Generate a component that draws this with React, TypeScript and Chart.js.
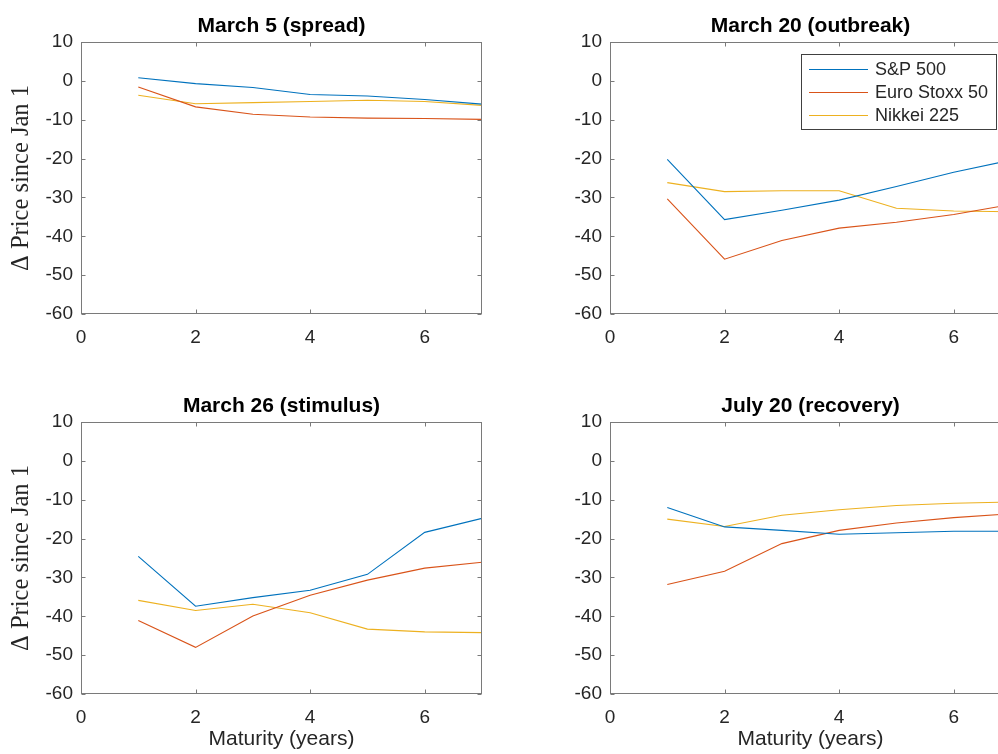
import React, { useEffect, useRef } from "react";
import { Chart, registerables } from "chart.js";

Chart.register(...registerables);

// ---------- data ----------
const maturities = [1, 2, 3, 4, 5, 6, 7];
const seriesNames = ["S&P 500", "Euro Stoxx 50", "Nikkei 225"];
const seriesColors = ["#0072BD", "#D95319", "#EDB120"];
const panelTitles = [
  "March 5 (spread)",
  "March 20 (outbreak)",
  "March 26 (stimulus)",
  "July 20 (recovery)",
];
const xTicks = [0, 2, 4, 6];
const yTicks = [-60, -50, -40, -30, -20, -10, 0, 10];
const xLabel = "Maturity (years)";
const yLabel = "Δ Price since Jan 1";

const mar5SP = [0.8, -0.7, -1.7, -3.5, -3.9, -4.8, -6.0];
const mar5Euro = [-1.6, -6.7, -8.6, -9.3, -9.6, -9.7, -9.9];
const mar5Nikkei = [-3.7, -5.9, -5.6, -5.3, -5.0, -5.3, -6.3];

const mar20SP = [-20.2, -35.7, -33.3, -30.7, -27.2, -23.5, -20.4];
const mar20Euro = [-30.4, -45.9, -41.1, -37.9, -36.4, -34.4, -31.8];
const mar20Nikkei = [-26.2, -28.5, -28.3, -28.3, -32.8, -33.5, -33.7];

const mar26SP = [-24.6, -37.4, -35.2, -33.3, -29.2, -18.4, -14.8];
const mar26Euro = [-41.1, -48.0, -39.9, -34.6, -30.7, -27.6, -26.1];
const mar26Nikkei = [-35.9, -38.5, -36.9, -39.1, -43.3, -44.0, -44.2];

const jul20SP = [-12.0, -17.0, -17.9, -18.9, -18.5, -18.1, -18.1];
const jul20Euro = [-31.8, -28.4, -21.3, -17.9, -16.0, -14.6, -13.6];
const jul20Nikkei = [-15.0, -16.9, -14.0, -12.6, -11.5, -10.9, -10.6];

const panelSeries = [
  [mar5SP, mar5Euro, mar5Nikkei],
  [mar20SP, mar20Euro, mar20Nikkei],
  [mar26SP, mar26Euro, mar26Nikkei],
  [jul20SP, jul20Euro, jul20Nikkei],
];

// ---------- styling / layout ----------
const SANS = "'Liberation Sans', Arial, Helvetica, sans-serif";
const SERIF = "'Liberation Serif', 'Times New Roman', serif";
const AXIS_COLOR = "#7a7a7a";
const TEXT_COLOR = "#262626";

type PanelLayout = {
  left: number;
  top: number;
  width: number;
  height: number;
  yWidth: number;
  xHeight: number;
  padRight: number;
  isLeft: boolean;
  isBottom: boolean;
  legend: boolean;
};

const layouts: PanelLayout[] = [
  { left: 0, top: 0, width: 500, height: 377, yWidth: 81, xHeight: 63, padRight: 18, isLeft: true, isBottom: false, legend: false },
  { left: 500, top: 0, width: 530, height: 377, yWidth: 110, xHeight: 63, padRight: 19, isLeft: false, isBottom: false, legend: true },
  { left: 0, top: 380, width: 500, height: 374, yWidth: 81, xHeight: 60, padRight: 18, isLeft: true, isBottom: true, legend: false },
  { left: 500, top: 380, width: 530, height: 374, yWidth: 110, xHeight: 60, padRight: 19, isLeft: false, isBottom: true, legend: false },
];

const boxPlugin = {
  id: "matlabBox",
  afterDraw(chart: any) {
    const { ctx, chartArea: a, scales } = chart;
    const L = Math.round(a.left) + 0.5;
    const R = Math.round(a.right) - 0.5;
    const T = Math.round(a.top) + 0.5;
    const B = Math.round(a.bottom) - 0.5;
    ctx.save();
    ctx.strokeStyle = AXIS_COLOR;
    ctx.lineWidth = 1;
    ctx.strokeRect(L, T, R - L, B - T);
    const tl = 4;
    ctx.beginPath();
    xTicks.forEach((v) => {
      const px = Math.round(scales.x.getPixelForValue(v)) + 0.5;
      ctx.moveTo(px, B);
      ctx.lineTo(px, B - tl);
      ctx.moveTo(px, T);
      ctx.lineTo(px, T + tl);
    });
    yTicks.forEach((v) => {
      const py = Math.round(scales.y.getPixelForValue(v)) + 0.5;
      ctx.moveTo(L, py);
      ctx.lineTo(L + tl, py);
      ctx.moveTo(R, py);
      ctx.lineTo(R - tl, py);
    });
    ctx.stroke();
    ctx.restore();
  },
};

const legendPlugin = {
  id: "matlabLegend",
  afterDraw(chart: any) {
    const { ctx, chartArea: a } = chart;
    const w = 195;
    const h = 75;
    const right = Math.round(a.right) - 15;
    const left = right - w;
    const top = Math.round(a.top) + 12;
    ctx.save();
    ctx.fillStyle = "#ffffff";
    ctx.fillRect(left, top, w, h);
    ctx.strokeStyle = "#404040";
    ctx.lineWidth = 1;
    ctx.strokeRect(left + 0.5, top + 0.5, w, h);
    ctx.font = `18px ${SANS}`;
    ctx.textBaseline = "middle";
    ctx.textAlign = "left";
    seriesNames.forEach((name, i) => {
      const y = top + 15 + i * 23;
      ctx.strokeStyle = seriesColors[i];
      ctx.beginPath();
      ctx.moveTo(left + 8, y + 0.5);
      ctx.lineTo(left + 67, y + 0.5);
      ctx.stroke();
      ctx.fillStyle = TEXT_COLOR;
      ctx.fillText(name, left + 74, y + 1);
    });
    ctx.restore();
  },
};

function Panel({ index }: { index: number }) {
  const ref = useRef<HTMLCanvasElement | null>(null);
  const lay = layouts[index];

  useEffect(() => {
    if (!ref.current) return;
    const series = panelSeries[index];
    const chart = new Chart(ref.current, {
      type: "line",
      data: {
        datasets: series.map((vals, i) => ({
          label: seriesNames[i],
          data: maturities.map((m, j) => ({ x: m, y: vals[j] })),
          borderColor: seriesColors[i],
          backgroundColor: seriesColors[i],
          borderWidth: 1.1,
          pointRadius: 0,
          tension: 0,
          fill: false,
        })),
      },
      options: {
        responsive: false,
        animation: false,
        events: [],
        layout: { padding: { left: 0, top: 0, right: lay.padRight, bottom: 0 } },
        plugins: {
          legend: { display: false },
          tooltip: { enabled: false },
          title: {
            display: true,
            text: panelTitles[index],
            fullSize: false,
            color: "#000000",
            font: { family: SANS, size: 21, weight: "bold" },
            padding: { top: 14, bottom: 2.8 },
          },
        },
        scales: {
          x: {
            type: "linear",
            min: 0,
            max: 7,
            afterBuildTicks: (s: any) => {
              s.ticks = xTicks.map((v) => ({ value: v }));
            },
            afterFit: (s: any) => {
              s.height = lay.xHeight;
            },
            grid: { display: false, drawTicks: false },
            border: { display: false },
            ticks: {
              padding: 12,
              color: TEXT_COLOR,
              font: { family: SANS, size: 19 },
              maxRotation: 0,
              autoSkip: false,
            },
            title: {
              display: lay.isBottom,
              text: xLabel,
              color: TEXT_COLOR,
              font: { family: SANS, size: 21 },
              padding: { top: 0, bottom: 2.4 },
            },
          },
          y: {
            type: "linear",
            min: -60,
            max: 10,
            afterBuildTicks: (s: any) => {
              s.ticks = yTicks.map((v) => ({ value: v }));
            },
            afterFit: (s: any) => {
              s.width = lay.yWidth;
            },
            grid: { display: false, drawTicks: false },
            border: { display: false },
            ticks: {
              padding: 8,
              color: TEXT_COLOR,
              font: { family: SANS, size: 19 },
              autoSkip: false,
            },
            title: {
              display: lay.isLeft,
              text: yLabel,
              color: TEXT_COLOR,
              font: { family: SERIF, size: 24.5 },
              padding: { top: 7, bottom: 0 },
            },
          },
        },
      },
      plugins: lay.legend ? [boxPlugin, legendPlugin] : [boxPlugin],
    } as any);
    return () => chart.destroy();
  }, [index]);

  return (
    <canvas
      ref={ref}
      width={lay.width}
      height={lay.height}
      style={{
        position: "absolute",
        left: lay.left,
        top: lay.top,
        width: lay.width,
        height: lay.height,
      }}
    />
  );
}

export default function App() {
  return (
    <div
      style={{
        position: "absolute",
        left: 0,
        top: 0,
        width: 998,
        height: 754,
        overflow: "hidden",
        background: "#ffffff",
      }}
    >
      {[0, 1, 2, 3].map((i) => (
        <Panel key={i} index={i} />
      ))}
    </div>
  );
}
